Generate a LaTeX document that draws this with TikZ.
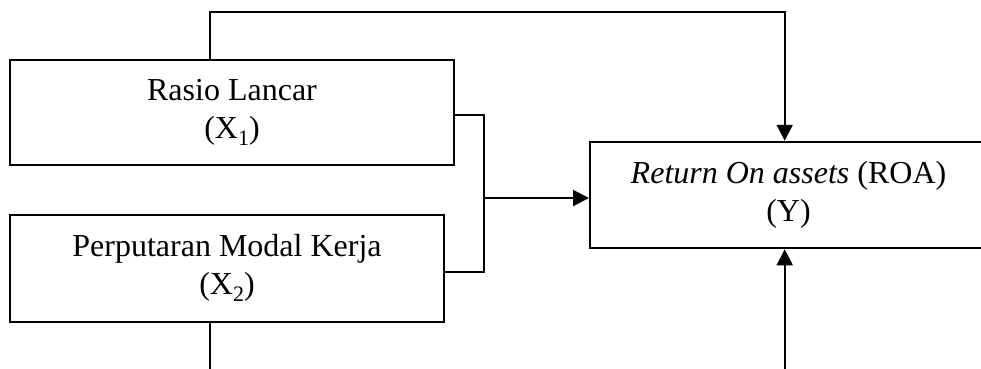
\documentclass[tikz,border=0pt]{standalone}
\usepackage{fontspec}
\setmainfont{Liberation Serif}
\usetikzlibrary{arrows.meta}

% subscript index, set a little larger and lower than \textsubscript
\newcommand{\varidx}[1]{\raisebox{-7pt}{\fontsize{22}{22}\selectfont #1}}

\tikzset{
  varbox/.style={draw, line width=2pt, align=center, inner sep=0pt,
    font=\fontsize{32}{38.4}\selectfont},
  link/.style={line width=2pt},
  linkarrow/.style={line width=2pt, -{Triangle[length=16pt,width=16pt]}}
}

\begin{document}
\begin{tikzpicture}[x=1pt, y=-1pt]
  \useasboundingbox (0,0) rectangle (981,368);
  \clip (0,0) rectangle (981,368);

  % independent variables
  \node[varbox, minimum width=444pt, minimum height=105pt] (x1) at (232,112.5)
    {Rasio Lancar\\(X\varidx{1})};
  \node[varbox, minimum width=434pt, minimum height=107pt] (x2) at (227,268)
    {Perputaran Modal Kerja\\(X\varidx{2})};

  % dependent variable (box runs past the right edge)
  \node[varbox, minimum width=397pt, minimum height=106.5pt] (y) at (788.5,195)
    {\textit{Return On assets} (ROA)\\(Y)};

  % routing points
  \coordinate (j)  at (484,198);
  \coordinate (t1) at (210,11.7);
  \coordinate (t2) at (784.7,11.7);
  \coordinate (b1) at (210,372);
  \coordinate (b2) at (784.7,372);

  % X1 and X2 joined, then into Y
  \draw[link] ([yshift=-2.5pt]x1.east) -| (j);
  \draw[link] ([yshift=-3.7pt]x2.east) -| (j);
  \draw[linkarrow] (j) -- (j -| y.west);

  % line over the top from X1 into Y
  \draw[linkarrow] (x1.north -| t1) -- (t1) -- (t2) -- (y.north -| t2);

  % lines leaving through the bottom
  \draw[link] (x2.south -| b1) -- (b1);
  \draw[linkarrow] (b2) -- (y.south -| b2);
\end{tikzpicture}
\end{document}
